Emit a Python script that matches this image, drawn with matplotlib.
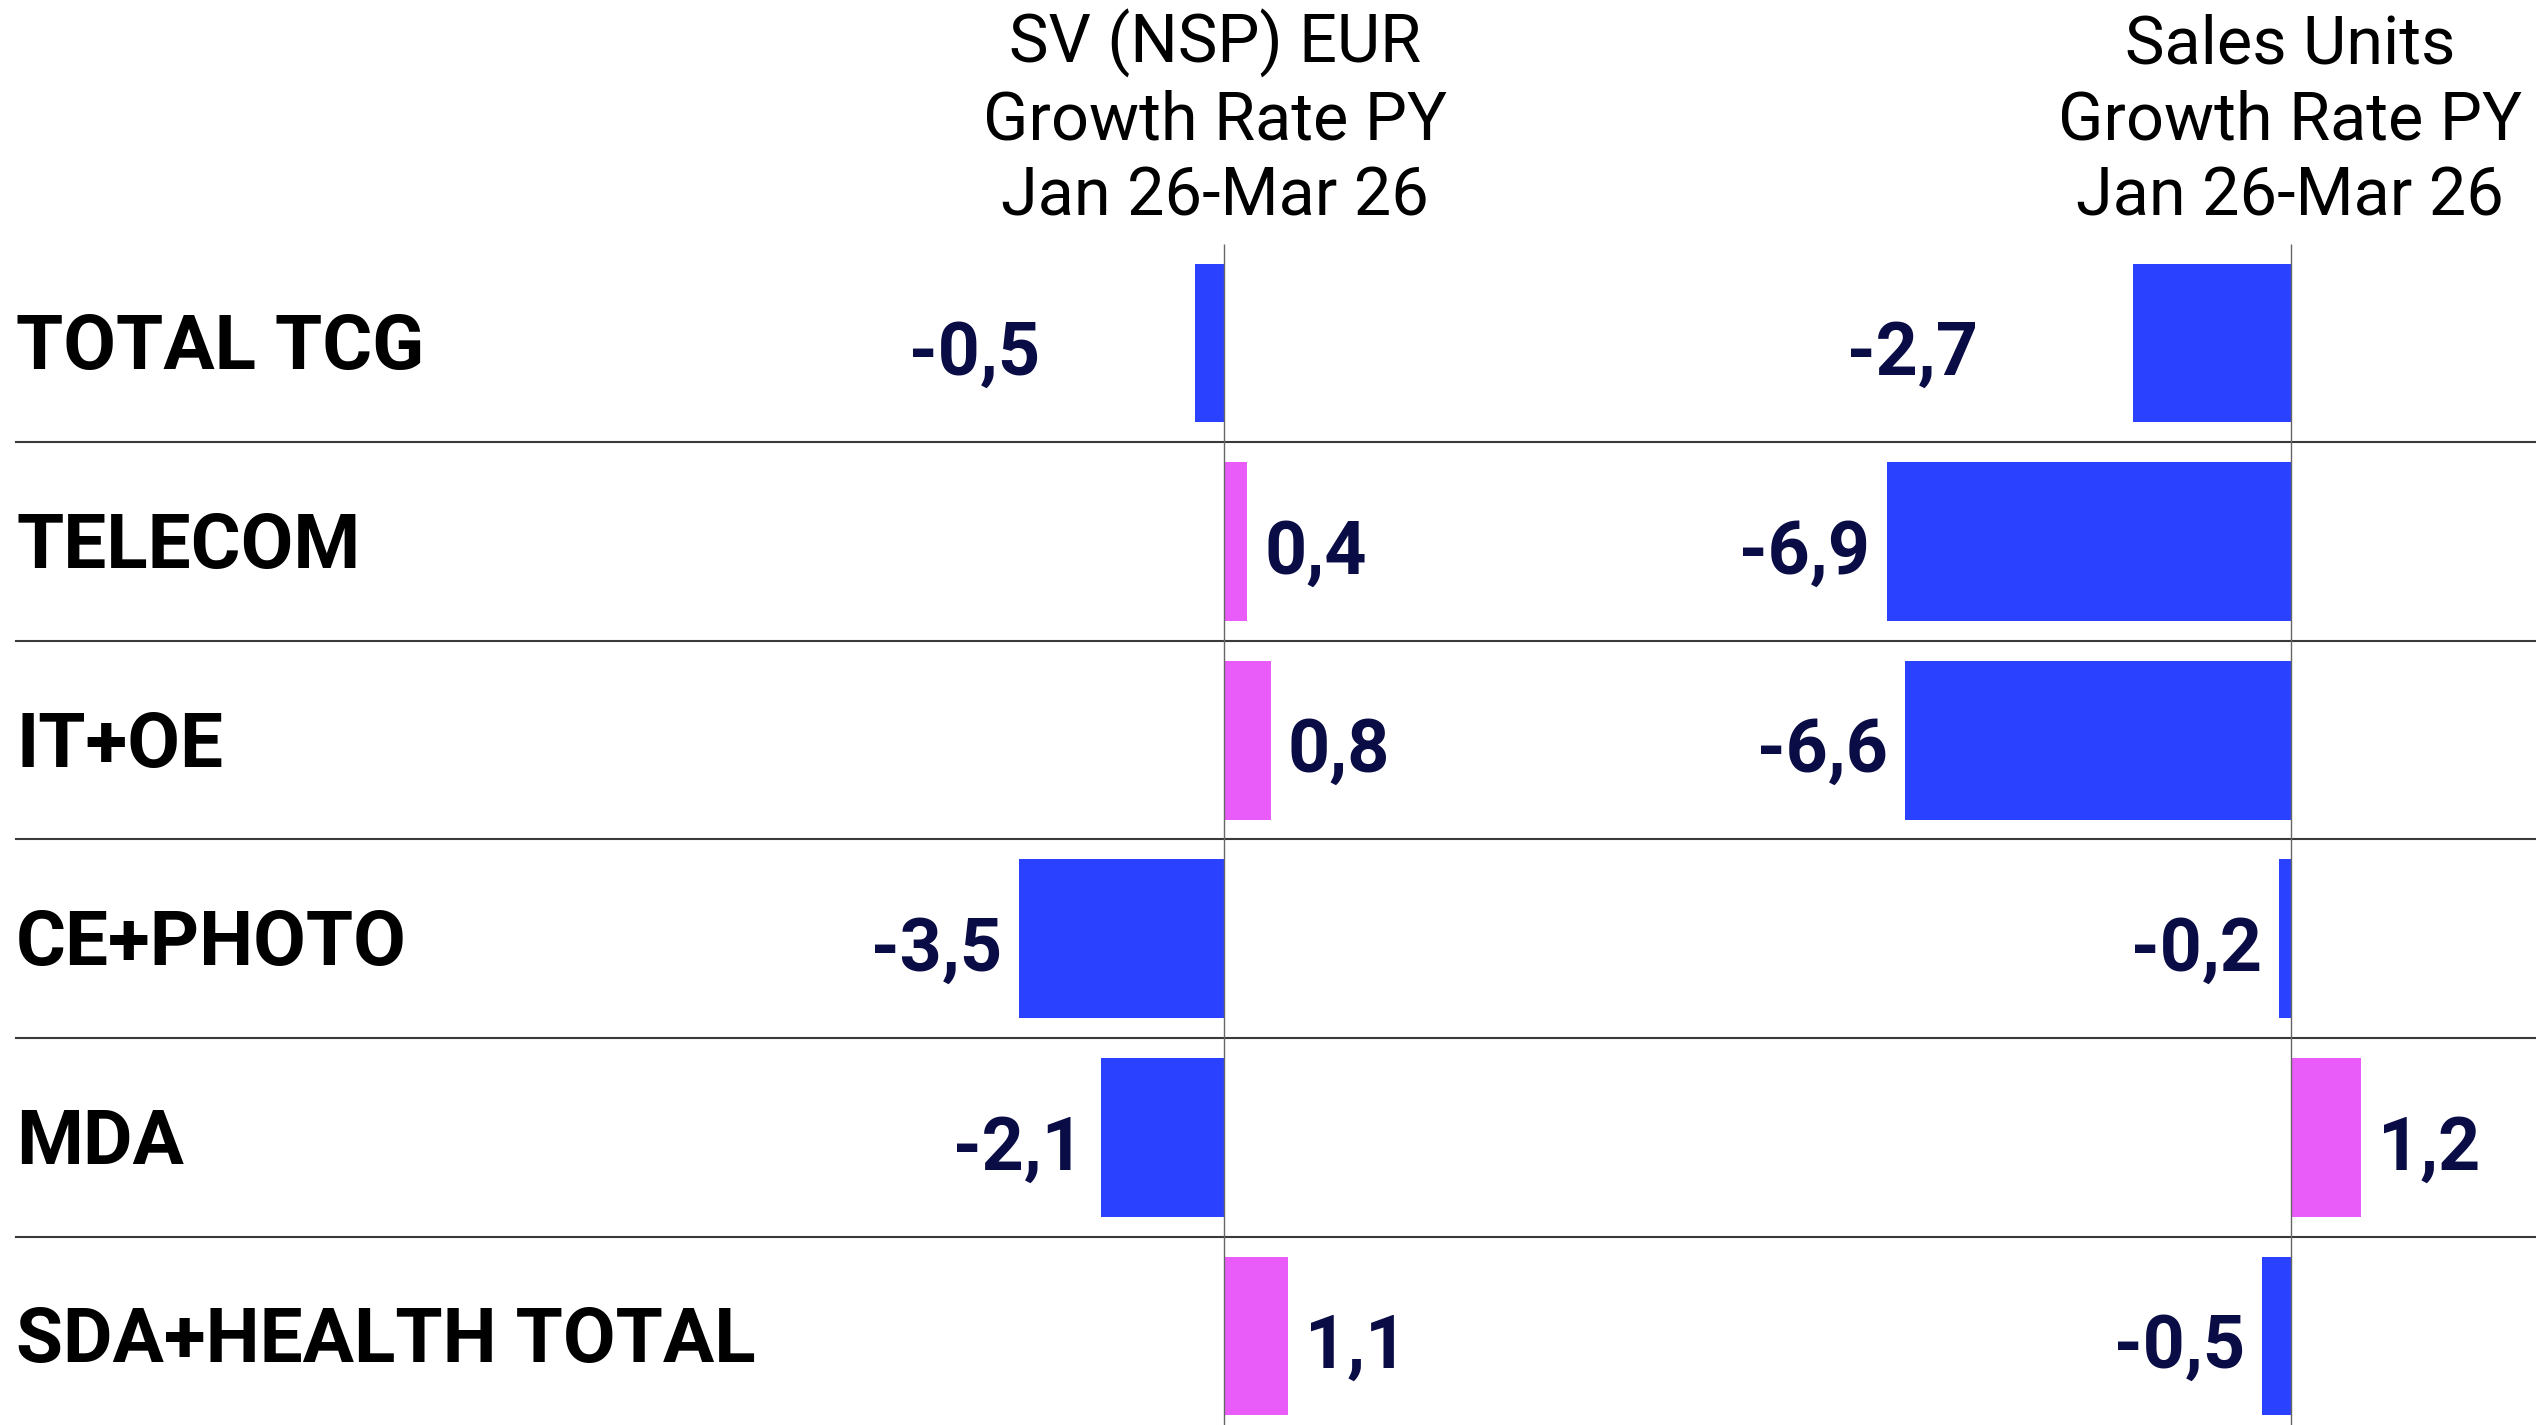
import matplotlib
matplotlib.use("Agg")
import matplotlib.pyplot as plt
import matplotlib.transforms as mtransforms

categories = ["TOTAL TCG", "TELECOM", "IT+OE", "CE+PHOTO", "MDA", "SDA+HEALTH TOTAL"]
sv_growth = [-0.5, 0.4, 0.8, -3.5, -2.1, 1.1]
units_growth = [-2.7, -6.9, -6.6, -0.2, 1.2, -0.5]
headers = [
    ["SV (NSP) EUR", "Growth Rate PY", "Jan 26-Mar 26"],
    ["Sales Units", "Growth Rate PY", "Jan 26-Mar 26"],
]

BLUE = "#2A41FF"
PINK = "#EA5CFA"
NAVY = "#0A0C45"

W, H = 2536, 1425
DPI = 100
PX_PER_UNIT = 58.5
fig = plt.figure(figsize=(W / DPI, H / DPI), dpi=DPI)
fig.patch.set_facecolor("white")

# axes layout in pixels
split = 1760
zero_px = [1224, 2291]
ax_specs = [(0, split), (split, W)]

row0_px = 343
pitch_px = 198.6
ylim = ((H - row0_px) / pitch_px, -row0_px / pitch_px)

axes = []
for (x0, x1), z, vals in zip(ax_specs, zero_px, [sv_growth, units_growth]):
    ax = fig.add_axes([x0 / W, 0, (x1 - x0) / W, 1])
    ax.set_xlim(-(z - x0) / PX_PER_UNIT, (x1 - z) / PX_PER_UNIT)
    ax.set_ylim(*ylim)
    ax.axis("off")
    ypos = list(range(len(categories)))
    colors = [BLUE if v < 0 else PINK for v in vals]
    ax.barh(ypos, vals, height=0.8, color=colors, zorder=2)
    ax.vlines(0, -0.5, ylim[0], color="#666666", lw=1.0, zorder=3)
    for i, v in enumerate(vals):
        gap = 155 if i == 0 else 17
        off = gap / PX_PER_UNIT
        txt = f"{v:.1f}".replace(".", ",")
        if v < 0:
            ax.text(v - off, i + 0.06, txt, ha="right", va="center",
                    fontsize=53, fontweight="bold", color=NAVY, family="Roboto")
        else:
            ax.text(v + off, i + 0.06, txt, ha="left", va="center",
                    fontsize=53, fontweight="bold", color=NAVY, family="Roboto")
    axes.append(ax)

ax1, ax2 = axes
for k in range(len(categories) - 1):
    ax1.axhline(k + 0.5, xmin=16 / split, xmax=1, color="#3a3a3a", lw=1.5, zorder=1)
    ax2.axhline(k + 0.5, color="#3a3a3a", lw=1.5, zorder=1)

trans = mtransforms.blended_transform_factory(ax1.transAxes, ax1.transData)
for i, c in enumerate(categories):
    ax1.text(16 / split, i + 0.03, c, transform=trans, ha="left", va="center",
             fontsize=55, fontweight="bold", color="black", family="Roboto")

# column headers
header_x = [1215, 2290]
baselines = [63, 140, 216]
for hx, lines in zip(header_x, headers):
    for b, line in zip(baselines, lines):
        fig.text(hx / W, 1 - b / H, line, ha="center", va="baseline",
                 fontsize=48, color="black", family="Roboto")

fig.savefig("out.png", dpi=DPI, facecolor="white")
